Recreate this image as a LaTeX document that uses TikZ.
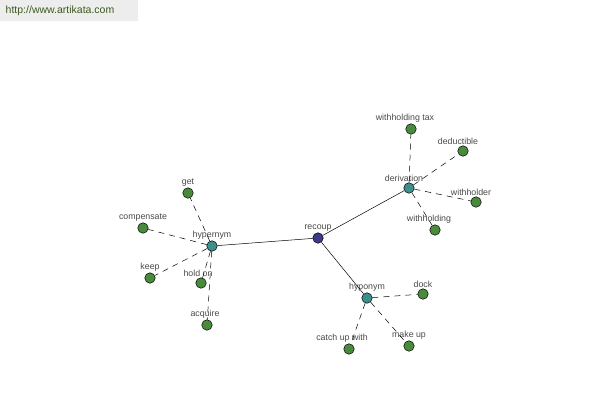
\documentclass[tikz,border=0pt]{standalone}
\usepackage{fontspec}
\setmainfont{Liberation Sans}
\usetikzlibrary{positioning}
\definecolor{leafgreen}{HTML}{4A8A3C}
\definecolor{relteal}{HTML}{3E8F8C}
\definecolor{rootblue}{HTML}{3B3B86}
\definecolor{lblgray}{HTML}{4A4A4A}
\definecolor{urlgreen}{HTML}{3C5A1E}

\begin{document}
\begin{tikzpicture}[
  x=1pt, y=-1pt,
  dot/.style={circle, draw=black, line width=0.5pt, inner sep=0pt, minimum size=10.5pt},
  leaf/.style={dot, fill=leafgreen},
  rel/.style={dot, fill=relteal},
  root/.style={dot, fill=rootblue},
  lbl/.style={font=\fontsize{8.8}{9}\selectfont, text=lblgray, inner sep=0pt, label distance=1pt},
  link/.style={line width=0.5pt, black},
  sub/.style={link, dash pattern=on 6pt off 5pt},
]
\useasboundingbox[fill=white] (0,0) rectangle (600,400);
\fill[black!7] (0,0) rectangle (138,21);
\node[font=\fontsize{10.5}{11}\selectfont, text=urlgreen] (url) at (60,11) {http://www.artikata.com};

% centre and relation nodes
\node[root, label={[lbl]above:recoup}] (recoup) at (318,238) {};
\node[rel, label={[lbl]above:hypernym}] (hyper) at (212,246) {};
\node[rel, label={[lbl,xshift=-5pt]above:derivation}] (deriv) at (409,188) {};
\node[rel, label={[lbl]above:hyponym}] (hypo) at (367,298) {};

% hypernym leaves
\node[leaf, label={[lbl]above:get}] (get) at (188,193) {};
\node[leaf, label={[lbl]above:compensate}] (comp) at (143,228) {};
\node[leaf, label={[lbl]above:keep}] (keep) at (150,278) {};
\node[leaf, label={[lbl,xshift=-3pt]above:hold on}] (hold) at (201,283) {};
\node[leaf, label={[lbl,xshift=-2pt]above:acquire}] (acq) at (207,325) {};

% derivation leaves
\node[leaf, label={[lbl,xshift=-6pt]above:withholding tax}] (wtax) at (411,129) {};
\node[leaf, label={[lbl,xshift=-5pt]above:deductible}] (deduct) at (463,151) {};
\node[leaf, label={[lbl,xshift=-5pt]above:withholder}] (wer) at (476,202) {};
\node[leaf, label={[lbl,xshift=-6pt]above:withholding}] (wing) at (435,230) {};

% hyponym leaves
\node[leaf, label={[lbl]above:dock}] (dock) at (423,294) {};
\node[leaf, label={[lbl,xshift=-7pt]above:catch up with}] (catch) at (349,349) {};
\node[leaf, label={[lbl]above:make up}] (make) at (409,346) {};

\draw[link] (recoup) -- (hyper);
\draw[link] (recoup) -- (deriv);
\draw[link] (recoup) -- (hypo);
\foreach \t in {get,comp,keep,hold,acq}
  \draw[sub] (hyper) -- (\t);
\foreach \t in {wtax,deduct,wer,wing}
  \draw[sub] (deriv) -- (\t);
\foreach \t in {dock,catch,make}
  \draw[sub] (hypo) -- (\t);
\end{tikzpicture}
\end{document}
